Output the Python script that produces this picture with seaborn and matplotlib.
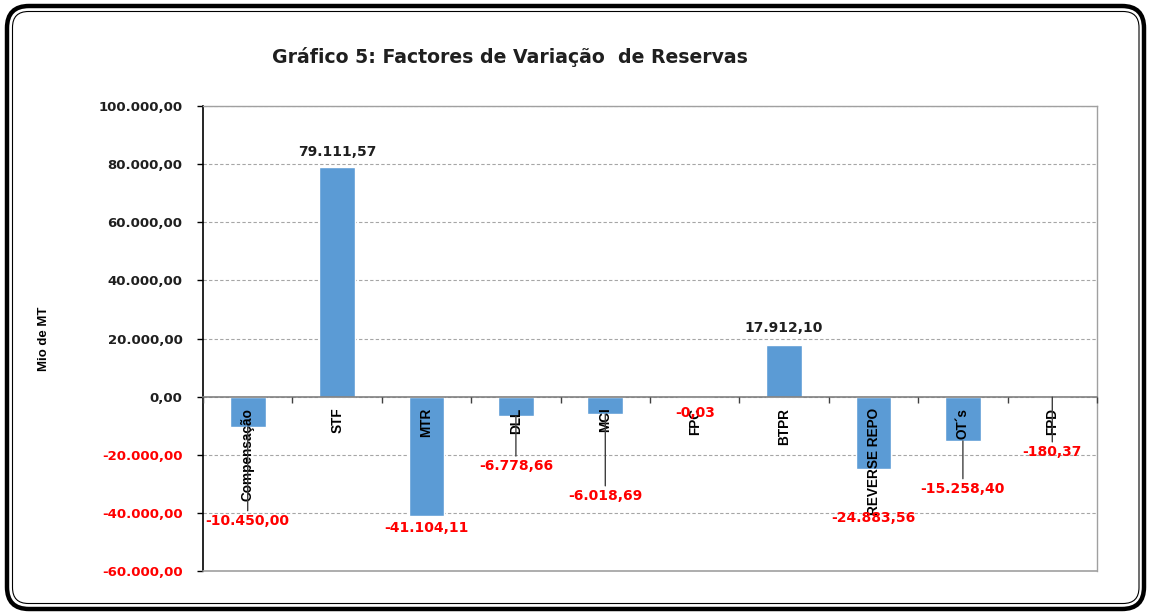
import numpy as np
import pandas as pd
import matplotlib
matplotlib.use("Agg")
import matplotlib.pyplot as plt
import seaborn as sns
from matplotlib.patches import FancyBboxPatch
from matplotlib.transforms import IdentityTransform

# ---------------- data ----------------
categories = ["Compensação", "STF", "MTR", "DLL", "MCI", "FPC", "BTPR",
              "REVERSE REPO", "OT´s", "FPD"]
values = [-10450.00, 79111.57, -41104.11, -6778.66, -6018.69, -0.03,
          17912.10, -24883.56, -15258.40, -180.37]
y_ticks = [-60000, -40000, -20000, 0, 20000, 40000, 60000, 80000, 100000]
title = "Gráfico 5: Factores de Variação  de Reservas"
y_label = "Mio de MT"

# label layout (pixel distance of label centre from bar end, + = downwards)
label_offset_px = [94, -15, 12, 50, 82, 16, -17, 49, 48, 55]
leader_line = [True, False, False, True, True, False, False, False, True, True]


def fmt(v):
    s = f"{v:,.2f}"
    return s.replace(",", "X").replace(".", ",").replace("X", ".")


sns.set_style("white")
plt.rcParams["font.family"] = ["DejaVu Sans"]

W, H = 1149, 614
fig = plt.figure(figsize=(W / 100, H / 100), dpi=100)
ax = fig.add_axes([203 / W, 1 - 571 / H, (1097 - 203) / W, (571 - 106) / H])

df = pd.DataFrame({"cat": categories, "val": values})
sns.barplot(data=df, x="cat", y="val", color="#5B9BD5", saturation=1,
            width=0.4, ax=ax)

ax.set_xlim(-0.5, len(categories) - 0.5)
ax.set_ylim(min(y_ticks), max(y_ticks))
ax.set_xlabel("")
ax.set_ylabel("")

# y axis
ax.set_yticks(y_ticks, labels=[fmt(v) for v in y_ticks])
for lbl, v in zip(ax.get_yticklabels(), y_ticks):
    lbl.set_color("#FF0000" if v < 0 else "#1F1F1F")
    lbl.set_fontweight("bold")
    lbl.set_fontsize(9.5)
ax.tick_params(axis="y", which="major", direction="out", length=4.3,
               width=1, color="black", pad=10.5, left=True)

ax.yaxis.grid(True, linestyle=(0, (3, 2)), color="#A6A6A6", linewidth=0.8)
ax.xaxis.grid(False)

# spines
ax.spines["left"].set_color("black")
ax.spines["left"].set_linewidth(1.2)
for s in ("top", "right"):
    ax.spines[s].set_visible(True)
    ax.spines[s].set_color("#A0A0A0")
    ax.spines[s].set_linewidth(1)
ax.spines["bottom"].set_position(("data", 0))
ax.spines["bottom"].set_color("#808080")
ax.spines["bottom"].set_linewidth(1.2)
ax.plot([0, 1], [0, 0], transform=ax.transAxes, color="#A0A0A0", lw=1.2,
        clip_on=False, zorder=3)

# x axis: labels at bar centres, tick marks at category boundaries
ax.set_xticks(range(len(categories)), labels=categories)
ax.set_xticks(np.arange(-0.5, len(categories), 1), minor=True)
ax.tick_params(axis="x", which="major", length=0, pad=8, bottom=True)
ax.tick_params(axis="x", which="minor", length=4, width=1, color="#404040",
               direction="out", bottom=True)
for lbl in ax.get_xticklabels():
    lbl.set_rotation(90)
    lbl.set_va("top")
    lbl.set_ha("center")
    lbl.set_fontweight("bold")
    lbl.set_fontsize(9.8)
    lbl.set_family(["Liberation Sans"])
    lbl.set_color("black")
ax.xaxis.set_zorder(3)
ax.yaxis.set_zorder(0.5)

# data labels
px2pt = 72 / 100
for i, (v, off, lead) in enumerate(zip(values, label_offset_px, leader_line)):
    color = "#FF0000" if v < 0 else "#1F1F1F"
    kw = {}
    if lead:
        kw["arrowprops"] = dict(arrowstyle="-", color="#404040", lw=1,
                                shrinkA=0, shrinkB=0)
    ax.annotate(fmt(v), xy=(i, v), xytext=(0, -off * px2pt),
                textcoords="offset points", ha="center", va="center",
                fontsize=10, fontweight="bold", color=color, zorder=5,
                annotation_clip=False, **kw)

# title and y label
fig.text(510 / W, 1 - 57 / H, title, ha="center", va="center",
         fontsize=13.6, fontweight="bold", color="#1F1F1F")
fig.text(44 / W, 1 - 339 / H, y_label, ha="center", va="center",
         rotation=90, fontsize=9.5, fontweight="bold", color="black",
         family=["Liberation Sans"])

# double rounded frame around the chart
outer = FancyBboxPatch((7, 5), 1137, 603,
                       boxstyle="round,pad=0,rounding_size=22",
                       transform=IdentityTransform(), fill=False,
                       edgecolor="black", linewidth=3.2)
inner = FancyBboxPatch((12.5, 10.5), 1126.5, 592,
                       boxstyle="round,pad=0,rounding_size=16",
                       transform=IdentityTransform(), fill=False,
                       edgecolor="black", linewidth=0.8)
fig.patches.extend([outer, inner])

fig.savefig("out.png", dpi=100)
